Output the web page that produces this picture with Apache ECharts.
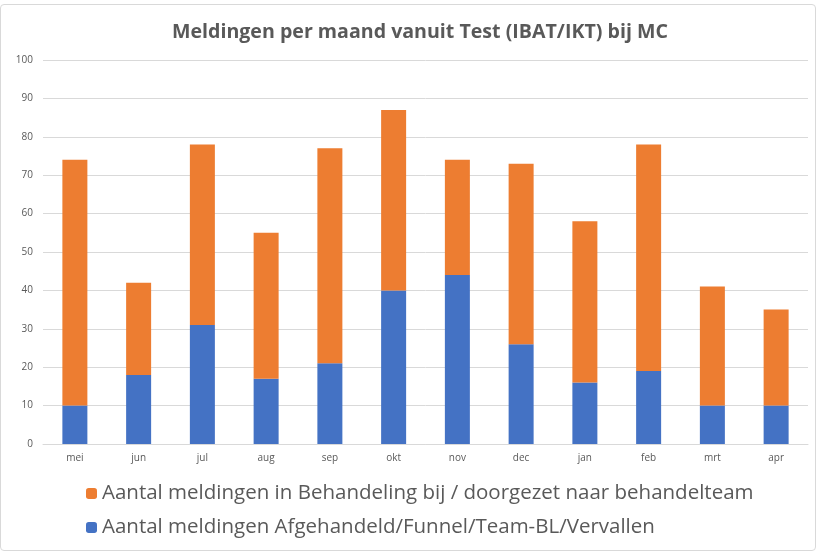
<!DOCTYPE html>
<html>
<head>
<meta charset="utf-8">
<script src="https://cdn.jsdelivr.net/npm/echarts@6/dist/echarts.min.js"></script>
<style>
  html, body { margin: 0; padding: 0; background: #fff; }
  #main { width: 814px; height: 545px; margin-top: 4px; border: 1px solid #d9d9d9; border-radius: 4px; }
</style>
</head>
<body>
<div id="main"></div>
<script>
var months = ['mei', 'jun', 'jul', 'aug', 'sep', 'okt', 'nov', 'dec', 'jan', 'feb', 'mrt', 'apr'];
var afgehandeld = [10, 18, 31, 17, 21, 40, 44, 26, 16, 19, 10, 10];
var inBehandeling = [64, 24, 47, 38, 56, 47, 30, 47, 42, 59, 31, 25];
var nameOrange = 'Aantal meldingen in Behandeling bij / doorgezet naar behandelteam';
var nameBlue = 'Aantal meldingen Afgehandeld/Funnel/Team-BL/Vervallen';

var chart = echarts.init(document.getElementById('main'));
var option = {
    animation: false,
    textStyle: { fontFamily: 'Open Sans, sans-serif' },
    title: {
        text: 'Meldingen per maand vanuit Test (IBAT/IKT) bij MC',
        left: 166,
        top: 12,
        textStyle: {
            fontSize: 19.6,
            fontWeight: 'bold',
            color: '#595959'
        }
    },
    legend: {
        orient: 'vertical',
        left: 80,
        top: 473,
        itemWidth: 11,
        itemHeight: 11,
        itemGap: 13,
        data: [nameOrange, nameBlue],
        textStyle: { fontSize: 20.5, lineHeight: 21, color: '#595959' }
    },
    grid: { left: 42, right: 7, top: 55, bottom: 106 },
    xAxis: {
        type: 'category',
        data: months,
        axisTick: { show: false },
        axisLine: { lineStyle: { color: '#d9d9d9' } },
        axisLabel: { color: '#595959', fontSize: 10, margin: 9 }
    },
    yAxis: {
        type: 'value',
        min: 0,
        max: 100,
        interval: 10,
        axisLabel: { color: '#595959', fontSize: 10, margin: 10 },
        splitLine: { lineStyle: { color: '#d9d9d9' } }
    },
    series: [
        {
            name: nameBlue,
            type: 'bar',
            stack: 'total',
            barWidth: 25,
            data: afgehandeld,
            itemStyle: { color: '#4472c4' }
        },
        {
            name: nameOrange,
            type: 'bar',
            stack: 'total',
            barWidth: 25,
            data: inBehandeling,
            itemStyle: { color: '#ed7d31' }
        }
    ]
};
chart.setOption(option);
</script>
</body>
</html>
